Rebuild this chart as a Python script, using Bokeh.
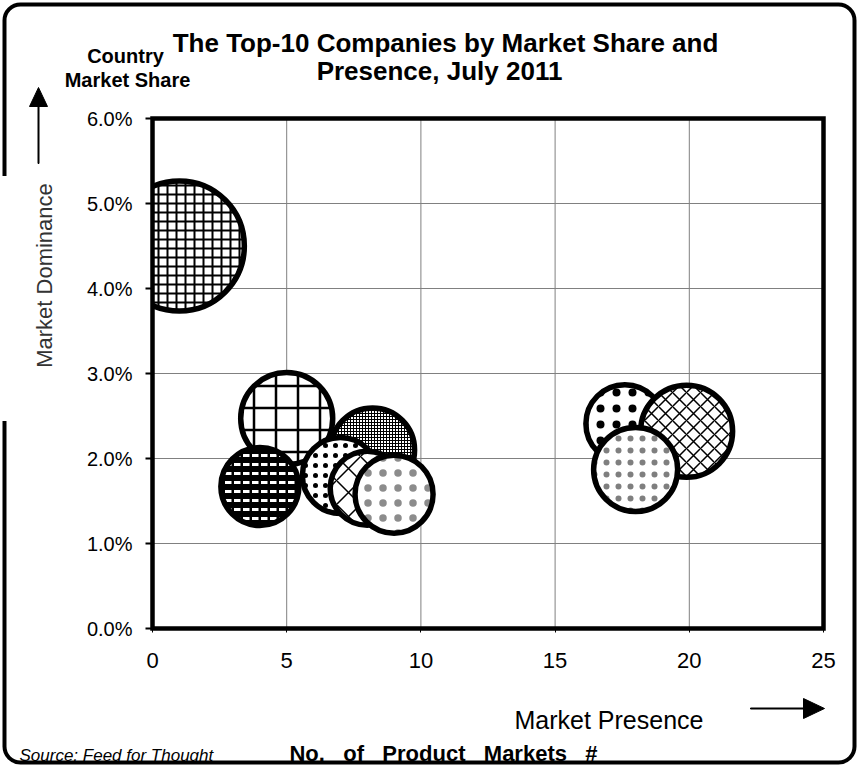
import math
from bokeh.plotting import figure
from bokeh.models import (ColumnDataSource, Label, PolyAnnotation, FixedTicker,
                          NumeralTickFormatter, Range1d, BoxAnnotation)
from bokeh.embed import file_html
from bokeh.resources import INLINE

# ---------------- data ----------------
presence = [1, 5, 8.2, 4, 7, 8, 9, 17.6, 19.9, 18]          # No. of product markets
share = [4.5, 2.47, 2.1, 1.67, 1.8, 1.65, 1.58, 2.41, 2.32, 1.87]  # market share, %
bubble_size = [130, 92, 84, 78, 76, 74, 78, 78, 92, 84]
x_ticks = [0, 5, 10, 15, 20, 25]
y_ticks = [0, 1, 2, 3, 4, 5, 6]

# ---------------- styles ----------------
fills = ["white", "white", "white", "black", "white", "white", "white", "white", "white", "white"]
hatch_colors = ["black", "black", "black", "white", "black", "black", "black", "black", "black", "black"]
patterns = ["cross", "cross", "cross", "horizontal_dash", "dot", "diagonal_cross",
            "dot", "dot", "diagonal_cross", "dot"]
hatch_scales = [9, 22, 3, 9, 10, 24, 15, 16, 14, 12]
hatch_weights = [2, 2.5, 1, 3, 1.5, 1.5, 0.1, 7.5, 1.5, 0.1]
hatch_alphas = [1, 1, 1, 1, 1, 1, 0.45, 1, 1, 0.5]

y_frac = [v / 100 for v in share]
yt = [v / 100 for v in y_ticks]
source = ColumnDataSource(dict(
    x=presence, y=y_frac, size=bubble_size,
    fill=fills, hcolor=hatch_colors, pattern=patterns, hscale=hatch_scales,
    hweight=hatch_weights, halpha=hatch_alphas,
))

FONT = "Liberation Sans"
W, H = 858, 767


# page-pixel -> data helpers (plot region: x 152..823 px = 0..25, y 628..118 px = 0..6%)
def px(v):
    return (v - 152) / 671 * 25


def py(v):
    return (628 - v) / 510 * 0.06


p = figure(width=W, height=H, x_range=Range1d(px(0), px(W)), y_range=Range1d(py(H), py(0)),
           output_backend="svg", toolbar_location=None, min_border=0)
p.background_fill_color = "white"
p.border_fill_color = "white"
p.outline_line_color = None
p.xgrid.visible = False
p.ygrid.visible = False

xmin, xmax = min(x_ticks), max(x_ticks)
ymin, ymax = min(yt), max(yt)

# grid lines
p.segment(x0=x_ticks[1:-1], y0=[ymin] * (len(x_ticks) - 2), x1=x_ticks[1:-1],
          y1=[ymax] * (len(x_ticks) - 2), line_color="#808080", line_width=1)
p.segment(x0=[xmin] * (len(yt) - 2), y0=yt[1:-1], x1=[xmax] * (len(yt) - 2), y1=yt[1:-1],
          line_color="#808080", line_width=1)

# bubbles
p.scatter(x="x", y="y", size="size", marker="circle", source=source,
          fill_color="fill", line_color="black", line_width=5.5,
          hatch_pattern="pattern", hatch_color="hcolor", hatch_scale="hscale",
          hatch_weight="hweight", hatch_alpha="halpha")

# mask outside the plot region on the left (clips the first bubble at x = 0)
p.quad(left=[px(0)], right=[xmin], bottom=[py(H)], top=[py(0)],
       fill_color="white", line_color=None)
# plot-region frame
p.quad(left=[xmin], right=[xmax], bottom=[ymin], top=[ymax],
       fill_color=None, line_color="black", line_width=4.5, line_join="miter")

# axes (fixed at the plot region's edges)
p.xaxis.fixed_location = 0
p.yaxis.fixed_location = 0
p.xaxis.bounds = (xmin, xmax)
p.yaxis.bounds = (ymin, ymax)
p.xaxis.ticker = FixedTicker(ticks=x_ticks)
p.yaxis.ticker = FixedTicker(ticks=yt)
p.yaxis.formatter = NumeralTickFormatter(format="0.0%")
for ax in (p.xaxis[0], p.yaxis[0]):
    ax.axis_line_color = None
    ax.minor_tick_line_color = None
    ax.major_label_text_color = "black"
    ax.major_tick_line_color = "black"
    ax.major_tick_in = 0
p.yaxis.major_tick_out = 7
p.yaxis.major_tick_line_width = 2
p.yaxis.major_label_standoff = 13
p.yaxis.major_label_text_font = FONT
p.yaxis.major_label_text_font_size = "20px"
p.xaxis.major_tick_out = 4
p.xaxis.major_tick_line_width = 1
p.xaxis.major_label_standoff = 20
p.xaxis.major_label_text_font = FONT
p.xaxis.major_label_text_font_size = "22px"


def add_text(text, x, y, size, align="left", style="normal", color="black", angle=0,
             baseline="alphabetic", font=FONT):
    p.add_layout(Label(x=px(x), y=py(y), text=text, text_font=font,
                       text_font_size=f"{size}px", text_font_style=style,
                       text_align=align, text_baseline=baseline, text_color=color,
                       angle=angle))


def add_poly(xs, ys, fill="black", line="black"):
    p.add_layout(PolyAnnotation(xs=[px(v) for v in xs], ys=[py(v) for v in ys],
                                fill_color=fill, fill_alpha=1, line_color=line,
                                line_width=1, line_alpha=1))


# outer rounded frame
p.add_layout(BoxAnnotation(left=px(4), right=px(854), top=py(4), bottom=py(762),
                           fill_color=None, fill_alpha=0, line_color="black", line_alpha=1,
                           line_width=4, border_radius=16))
# gap in the left border (as in the original)
add_poly([0, 12, 12, 0], [176, 176, 420, 420], fill="white", line="white")

add_text("The Top-10 Companies by Market Share and", 445, 42, 26, "center", "bold")
add_text("Presence, July 2011", 439, 70, 26, "center", "bold")
add_text("Country", 125, 55, 20, "center", "bold")
add_text("Market Share", 127, 79, 20, "center", "bold")
add_text("Market Dominance", 44, 275, 22, "center", color="#333333",
         angle=math.pi / 2, baseline="middle")
add_text("Market Presence", 514, 719, 25, "left")
nb = "\u00a0\u00a0 "
add_text(f"No.{nb}of{nb}Product{nb}Markets{nb}#", 443, 753, 22, "center", "bold")
add_text("Source: Feed for Thought", 19, 755, 17, "left", "italic")

# arrows (shaft + head)
add_poly([37.5, 38.5, 38.5, 37.5], [163, 163, 104, 104])
add_poly([29, 38, 47], [106, 87, 106])
add_poly([750, 805, 805, 750], [707.5, 707.5, 708.5, 708.5])
add_poly([803, 824, 803], [698, 708, 718])

open("out.html", "w").write(file_html(p, INLINE))
